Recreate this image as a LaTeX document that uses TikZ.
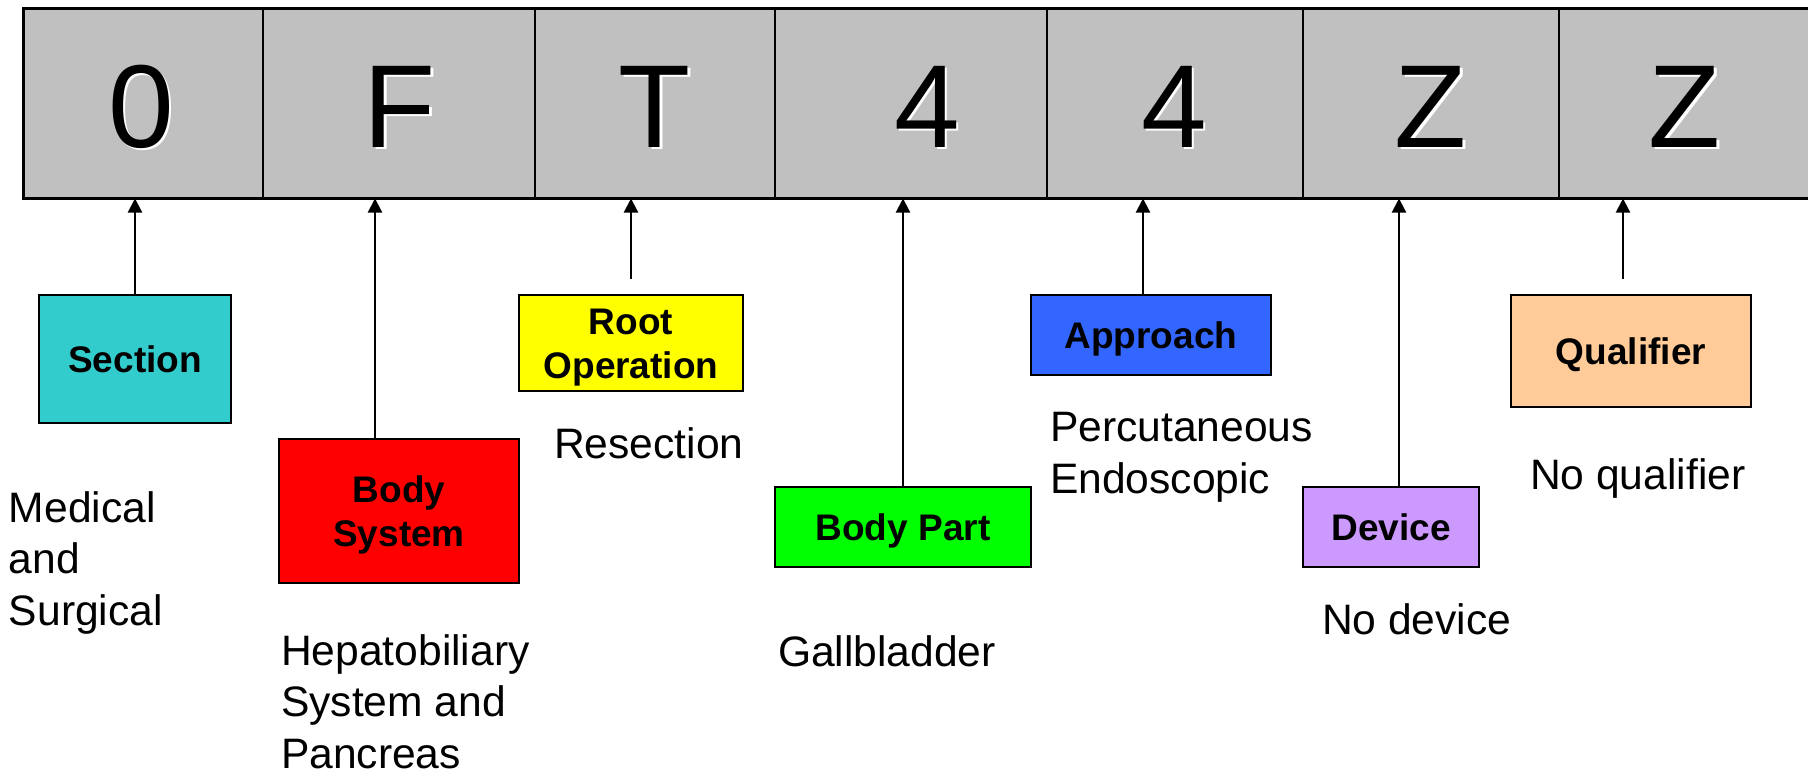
\documentclass[tikz,border=0pt]{standalone}
\usepackage{fontspec}
\setmainfont{Liberation Sans}
\usetikzlibrary{arrows.meta}
\definecolor{barGray}{HTML}{C0C0C0}
\definecolor{secCol}{HTML}{33CCCC}
\definecolor{bsCol}{HTML}{FF0000}
\definecolor{rootCol}{HTML}{FFFF00}
\definecolor{bpCol}{HTML}{00FF00}
\definecolor{apCol}{HTML}{3366FF}
\definecolor{devCol}{HTML}{CC99FF}
\definecolor{qualCol}{HTML}{FFCC99}
\begin{document}
\begin{tikzpicture}[x=0.5pt,y=-0.5pt,
  lbl/.style={draw=black, line width=1.3pt, inner sep=0pt, outer sep=0pt,
    font=\fontsize{18.5}{22}\selectfont\bfseries, align=center,
    text height=13.25pt, text depth=0pt},
  lbltwo/.style={lbl, text height=35.25pt},
  desc/.style={inner sep=0pt, outer sep=0pt, anchor=base west, align=left,
    font=\fontsize{21.3}{25.75}\selectfont},
  bigch/.style={inner sep=0pt, anchor=base, font=\fontsize{59}{59}\selectfont},
  shadowch/.style={bigch, text=white},
  arr/.style={line width=1.1pt, -{Triangle[length=7pt,width=7pt]}},
  divline/.style={line width=1pt}]
\useasboundingbox (0,0) rectangle (1808,773);
\clip (0,0) rectangle (1808,773);

% code bar
\node[draw=black, line width=1.5pt, fill=barGray, inner sep=0pt, outer sep=0pt,
  anchor=north west, minimum width=903.5pt, minimum height=95.25pt] (bar) at (23,8) {};
\foreach \dx in {263,535,775,1047,1303,1559}
  \draw[divline] (\dx,0 |- bar.north) -- (\dx,0 |- bar.south);

% characters with light shadow
\foreach \n/\cx/\ch in {1/141/0,2/400/F,3/655/T,4/927/4,5/1174/4,6/1431/Z,7/1685/Z}{
  \node[shadowch] (s\n) at (\cx+2.5,149.5) {\ch};
  \node[bigch] (l\n) at (\cx,147) {\ch};
}

% label boxes
\node[lbl, fill=secCol, minimum width=96pt, minimum height=64pt] (sec) at (135,359) {Section};
\node[lbltwo, fill=bsCol, minimum width=120pt, minimum height=72pt] (bs) at (399,511) {Body\\System};
\node[lbltwo, fill=rootCol, minimum width=112pt, minimum height=48pt] (root) at (631,343) {Root\\Operation};
\node[lbl, fill=bpCol, minimum width=128pt, minimum height=40pt] (bp) at (903,527) {Body Part};
\node[lbl, fill=apCol, minimum width=120pt, minimum height=40pt] (ap) at (1151,335) {Approach};
\node[lbl, fill=devCol, minimum width=88pt, minimum height=40pt] (dev) at (1391,527) {Device};
\node[lbl, fill=qualCol, minimum width=120pt, minimum height=56pt] (qual) at (1631,351) {Qualifier};

% arrow positions
\coordinate (bsx) at (375,0);
\coordinate (rootTail) at (631,279);
\coordinate (apx) at (1143,0);
\coordinate (devx) at (1399,0);
\coordinate (qualTail) at (1623,279);

\draw[arr] (sec.north) -- (sec.north |- bar.south);
\draw[arr] (bsx |- bs.north) -- (bsx |- bar.south);
\draw[arr] (rootTail) -- (rootTail |- bar.south);
\draw[arr] (bp.north) -- (bp.north |- bar.south);
\draw[arr] (apx |- ap.north) -- (apx |- bar.south);
\draw[arr] (devx |- dev.north) -- (devx |- bar.south);
\draw[arr] (qualTail) -- (qualTail |- bar.south);

% descriptions (base = baseline of last line)
\node[desc] (dsec) at (9,625) {Medical\\and\\Surgical};
\node[desc] (dbs) at (281,768) {Hepatobiliary\\System and\\Pancreas};
\node[desc] (droot) at (554,458) {Resection};
\node[desc] (dbp) at (778,666) {Gallbladder};
\node[desc] (dap) at (1050,493) {Percutaneous\\Endoscopic};
\node[desc] (ddev) at (1322,634) {No device};
\node[desc] (dqual) at (1530,489) {No qualifier};
\end{tikzpicture}
\end{document}
